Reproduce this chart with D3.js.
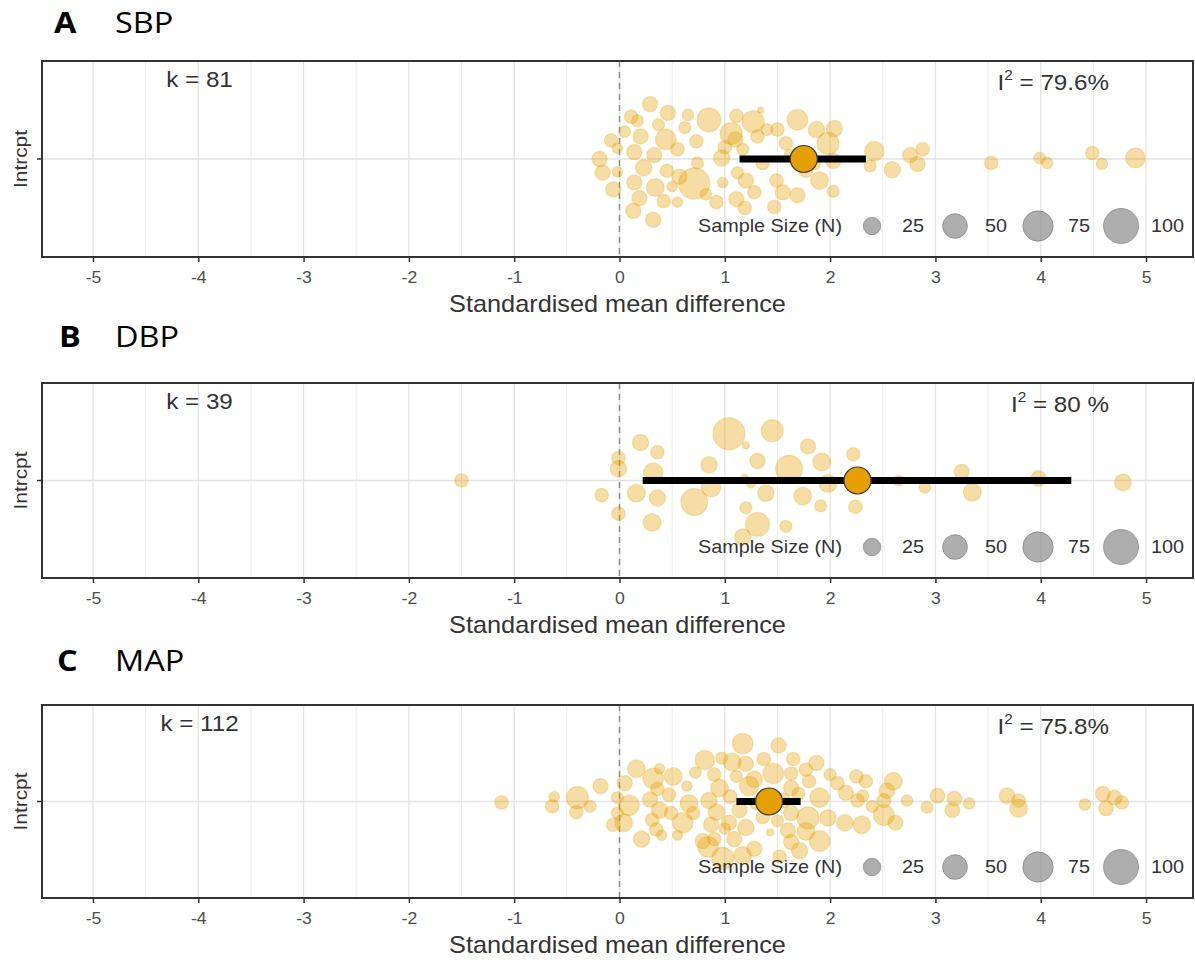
<!DOCTYPE html>
<meta charset="utf-8">
<style>
body { margin: 0; background: #fff; }
svg text { font-family: "Liberation Sans", Arial, sans-serif; }
.ptitle { font-family: "Open Sans", sans-serif; fill: #000; }
</style>
<svg width="1195" height="962"></svg>
<script src="https://cdnjs.cloudflare.com/ajax/libs/d3/7.8.5/d3.min.js"></script>
<script>

var xTicks = [-5, -4, -3, -2, -1, 0, 1, 2, 3, 4, 5];
var panelLetters = ["A", "B", "C"];
var outcomes = ["SBP", "DBP", "MAP"];
var kValues = [81, 39, 112];
var i2Labels = ["79.6%", "80 %", "75.8%"];
var legendSizes = [25, 50, 75, 100];

// pooled estimate: [mean, lower CI, upper CI]
var sbpEstimate = [1.75, 1.14, 2.34];
var dbpEstimate = [2.26, 0.22, 4.29];
var mapEstimate = [1.42, 1.11, 1.72];

// single studies: [smd, jitter, N]
var sbpPoints = [
  [0.29,56,19],[0.11,43,15],[0.17,39,12],[0.46,47,19],[0.37,35,12],[0.62,32,12],[0.85,40,47],
  [1.11,44,15],[1.34,50,3],[1.27,38,40],[1.06,26,40],[1.31,23,15],[1.10,20,19],[1.17,10,12],
  [-0.08,19,15],[-0.02,11,9],[0.20,23,19],[0.44,20,35],[0.55,10,15],[0.73,18,15],[0.14,7,19],
  [0.33,4,19],[-0.19,0,19],[0.97,1,22],[-0.16,-14,19],[-0.02,-13,9],[0.23,-9,22],[0.45,-12,15],
  [0.57,-18,19],[0.74,-4,12],[0.71,-25,80],[1.12,-14,12],[1.20,-22,19],[0.14,-24,19],[0.34,-29,26],
  [-0.06,-31,19],[0.19,-40,19],[0.42,-43,15],[0.55,-44,9],[0.98,-24,9],[1.28,-34,15],[1.11,-41,19],
  [0.92,-44,15],[0.13,-53,19],[0.32,-62,19],[1.19,-50,15],[1.47,-49,15],[1.49,-22,15],[1.50,30,15],
  [1.69,40,35],[1.87,30,22],[2.04,31,22],[1.58,16,15],[1.98,16,40],[2.03,-2,19],[1.77,-12,15],
  [1.90,-22,26],[1.55,-34,19],[1.69,-37,19],[2.03,-33,12],[2.42,8,31],[2.38,-7,12],[2.59,-11,22],
  [2.76,4,19],[2.88,10,15],[2.83,-5,19],[3.53,-4,15],[3.99,1,11],[4.06,-4,11],[4.49,6,15],
  [4.58,-5,11],[4.90,1,32],[0.05,28,11],[0.50,-28,9],[1.36,-4,15],[1.62,4,11],[0.82,-36,11],
  [1.00,12,15],[1.40,30,12],[0.65,45,11],[1.85,-5,12]
];
var dbpPoints = [
  [-0.01,23,15],[-0.01,12,22],[0.20,39,22],[0.36,29,15],[0.32,8,31],[-0.17,-15,15],[0.16,-13,26],
  [0.36,-18,22],[-0.01,-34,15],[0.31,-43,26],[0.71,-22,59],[0.85,16,22],[0.87,-7,31],[1.04,48,84],
  [1.20,36,4],[1.45,51,40],[1.31,20,19],[1.19,3,4],[1.61,12,59],[1.39,-13,22],[1.20,-28,12],
  [1.31,-45,47],[1.58,-47,12],[1.17,-58,22],[1.79,35,19],[1.92,19,26],[1.98,-3,26],[1.74,-16,26],
  [1.91,-26,12],[2.22,27,15],[2.24,-27,15],[2.65,0,9],[2.90,-7,11],[3.25,9,18],[3.35,-12,26],
  [3.98,2,20],[4.78,-2,23],[-1.50,0,15],[1.25,-3,7]
];
var mapPoints = [
  [-1.12,-1,15],[-0.62,5,9],[-0.64,-5,15],[-0.40,4,40],[-0.41,-11,15],[-0.28,-5,12],[-0.18,16,19],
  [-0.02,4,12],[-0.02,-12,12],[-0.06,-24,15],[0.05,19,19],[0.09,-4,35],[0.04,-22,26],[0.16,34,26],
  [0.32,24,35],[0.38,34,9],[0.51,26,26],[0.36,13,15],[0.47,7,15],[0.64,16,9],[0.29,2,19],
  [0.38,-9,22],[0.49,-12,15],[0.31,-19,15],[0.60,-22,35],[0.66,-2,26],[0.35,-29,15],[0.40,-35,9],
  [0.21,-39,22],
  [1.17,60,35],[1.51,58,19],[0.81,43,31],[0.97,45,12],[1.07,41,26],[1.20,39,19],[1.37,44,15],
  [1.65,44,15],[1.87,40,19],[0.90,28,15],[1.11,26,12],[1.28,23,22],[1.46,29,35],[1.63,29,15],
  [1.77,33,15],[1.80,21,15],[0.95,14,26],[1.23,16,31],[1.63,14,19],[2.07,19,15],[2.25,26,15],
  [2.34,21,15],[2.15,9,19],[0.85,1,22],[1.90,4,31],[2.31,6,12],[0.92,-11,22],[1.14,-9,19],
  [1.36,-16,15],[1.63,-12,19],[1.79,-17,40],[1.98,-17,22],[2.14,-22,22],[2.30,-24,26],[0.87,-24,19],
  [1.04,-22,19],[1.20,-27,22],[1.43,-32,4],[1.60,-30,19],[1.77,-31,26],[0.79,-41,19],[0.90,-39,15],
  [1.09,-39,19],[1.28,-49,19],[1.63,-42,19],[1.90,-41,35],[0.84,-47,35],[0.98,-59,40],[1.17,-56,26],
  [1.52,-57,15],[1.71,-51,22],
  [2.60,21,26],[2.54,11,20],[2.26,1,15],[2.51,-14,36],[2.62,-22,18],[2.51,1,16],[2.73,1,11],
  [2.92,-6,12],[3.02,6,18],[3.18,3,18],[3.16,-9,18],[3.32,-2,11],[3.68,6,20],[3.79,1,15],
  [3.79,-7,26],[4.42,-3,11],[4.59,8,18],[4.62,-7,18],[4.70,4,18],[4.77,-1,15],
  [1.42,3,16],[1.30,-2,14],[1.55,1,19],[0.72,30,11],[0.55,-35,8],[1.05,5,16],[1.70,8,14],
  [2.40,-5,12],[0.70,-12,14],[1.00,-28,11],[1.50,-20,12],[2.00,28,12]
];

var pointSets = [sbpPoints, dbpPoints, mapPoints];
var estimates = [sbpEstimate, dbpEstimate, mapEstimate];

// layout
var frameL = 42, frameR = 1193;
var panelTop = [61, 383, 705];
var panelH = [196, 195, 193];
var titleY = [33, 347, 671];
var letterX = [54, 59, 57];
var SX = 1.1; // the text in the figure runs a little wide

var svg = d3.select("svg");
var orange = "#E69F00";

var x = d3.scaleLinear().domain([-5.484, 5.446]).range([frameL, frameR]);
var size = d3.scaleSqrt().domain([0, 100]).range([0, 17.5]);

function wideText(g, px, py, str, fs, anchor) {
  return g.append("text")
    .attr("transform", "translate(" + px + "," + py + ") scale(" + SX + ",1)")
    .attr("font-size", fs)
    .attr("text-anchor", anchor || "start")
    .text(str);
}

panelLetters.forEach(function(letter, i) {
  var top = panelTop[i], bottom = top + panelH[i];
  var y = d3.scaleLinear().domain([-100, 100]).range([bottom, top]);
  var g = svg.append("g");

  // panel title
  g.append("text").attr("class", "ptitle")
    .attr("transform", "translate(" + letterX[i] + "," + titleY[i] + ") scale(1.12,1)")
    .attr("font-size", 29).attr("font-weight", 700).text(letter);
  g.append("text").attr("class", "ptitle")
    .attr("transform", "translate(115," + titleY[i] + ") scale(1.12,1)")
    .attr("font-size", 29).text(outcomes[i]);

  // grid
  var minor = d3.range(-4.5, 5, 1);
  g.selectAll(".minor").data(minor).enter().append("line")
    .attr("x1", d => x(d)).attr("x2", d => x(d))
    .attr("y1", top).attr("y2", bottom)
    .attr("stroke", "#ececec").attr("stroke-width", 1);
  g.selectAll(".major").data(xTicks).enter().append("line")
    .attr("x1", d => x(d)).attr("x2", d => x(d))
    .attr("y1", top).attr("y2", bottom)
    .attr("stroke", "#e3e3e3").attr("stroke-width", 1.3);
  g.append("line")
    .attr("x1", frameL).attr("x2", frameR)
    .attr("y1", y(0)).attr("y2", y(0))
    .attr("stroke", "#e3e3e3").attr("stroke-width", 1.3);

  // zero line
  g.append("line")
    .attr("x1", x(0)).attr("x2", x(0))
    .attr("y1", top).attr("y2", bottom)
    .attr("stroke", "#8a8a8a").attr("stroke-width", 1.4)
    .attr("stroke-dasharray", "6,5");

  // studies
  g.selectAll(".pt").data(pointSets[i]).enter().append("circle")
    .attr("cx", d => x(d[0]))
    .attr("cy", d => y(d[1]))
    .attr("r", d => size(d[2]))
    .attr("fill", orange).attr("fill-opacity", 0.35)
    .attr("stroke", orange).attr("stroke-opacity", 0.25).attr("stroke-width", 1.2);

  // pooled estimate
  var est = estimates[i];
  g.append("line")
    .attr("x1", x(est[1])).attr("x2", x(est[2]))
    .attr("y1", y(0)).attr("y2", y(0))
    .attr("stroke", "#000").attr("stroke-width", 7);
  g.append("circle")
    .attr("cx", x(est[0])).attr("cy", y(0)).attr("r", 13.5)
    .attr("fill", orange).attr("stroke", "#3a3a3a").attr("stroke-width", 1.2);

  // annotations
  wideText(g, 199.5, top + 26, "k = " + kValues[i], 22, "middle").attr("fill", "#333");
  var i2 = g.append("text")
    .attr("transform", "translate(1109," + (top + 29) + ") scale(" + SX + ",1)")
    .attr("font-size", 22).attr("text-anchor", "end").attr("fill", "#333");
  i2.append("tspan").text("I");
  i2.append("tspan").attr("dy", -10).attr("font-size", 14).text("2");
  i2.append("tspan").attr("dy", 10).text(" = " + i2Labels[i]);

  // legend
  var ly = bottom - 31;
  wideText(g, 842, ly + 6, "Sample Size (N)", 18, "end").attr("fill", "#333");
  var cx = 872;
  legendSizes.forEach(function(n) {
    g.append("circle")
      .attr("cx", cx).attr("cy", ly).attr("r", size(n))
      .attr("fill", "#8c8c8c").attr("fill-opacity", 0.7)
      .attr("stroke", "#777").attr("stroke-opacity", 0.6);
    var t = wideText(g, cx + 30, ly + 6, String(n), 18).attr("fill", "#333");
    cx += 30 + t.node().getComputedTextLength() * SX + 31;
  });

  // frame
  g.append("rect")
    .attr("x", frameL).attr("y", top)
    .attr("width", frameR - frameL).attr("height", bottom - top)
    .attr("fill", "none").attr("stroke", "#333").attr("stroke-width", 2);

  // x axis
  var ax = g.append("g")
    .attr("transform", "translate(0," + bottom + ")")
    .call(d3.axisBottom(x).tickValues(xTicks).tickSize(5).tickPadding(10)
      .tickFormat(d => String(d)));
  ax.select(".domain").remove();
  ax.selectAll(".tick line").attr("stroke", "#333").attr("stroke-width", 1.5);
  ax.selectAll(".tick text")
    .attr("font-size", 16).attr("fill", "#4d4d4d")
    .attr("font-family", "Liberation Sans, Arial, sans-serif")
    .attr("transform", "scale(" + SX + ",1)");

  wideText(g, (frameL + frameR) / 2, bottom + 55, "Standardised mean difference", 23, "middle")
    .attr("fill", "#333");

  // y axis
  g.append("line")
    .attr("x1", frameL - 5).attr("x2", frameL)
    .attr("y1", y(0)).attr("y2", y(0))
    .attr("stroke", "#333").attr("stroke-width", 1.5);
  g.append("text")
    .attr("transform", "translate(27," + y(0) + ") rotate(-90) scale(" + SX + ",1)")
    .attr("font-size", 19).attr("text-anchor", "middle").attr("fill", "#333")
    .text("Intrcpt");
});

</script>
